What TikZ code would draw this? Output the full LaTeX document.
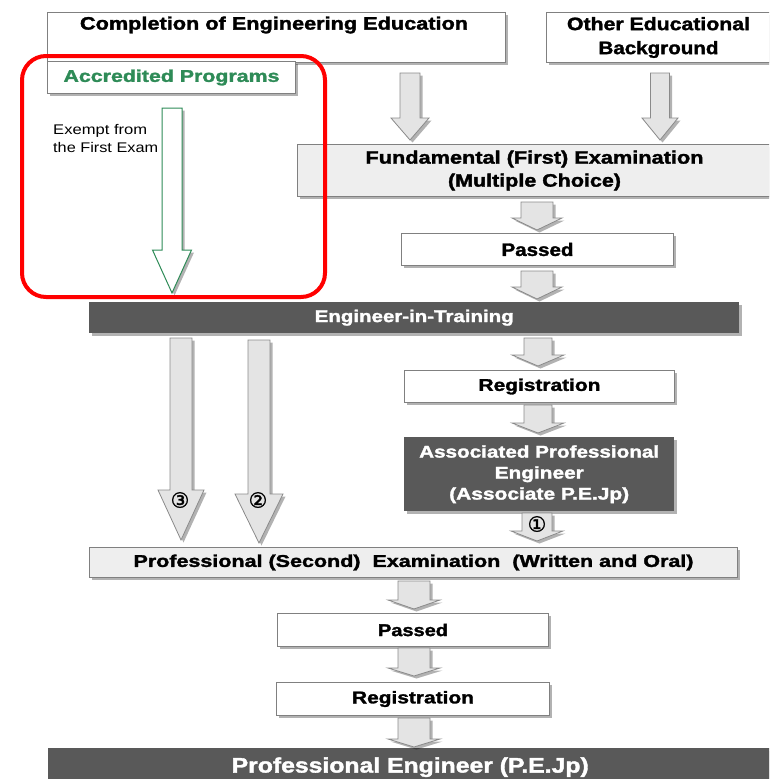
\documentclass[tikz,border=0pt]{standalone}
\usepackage{fontspec}
\setmainfont{Liberation Sans}[BoldFeatures={FakeBold=1.6}]
\newfontfamily\symfont{DejaVu Sans}[FakeBold=1.5]
\usetikzlibrary{calc,shadows}

\definecolor{boxline}{HTML}{808080}
\definecolor{lightfill}{HTML}{EEEEEE}
\definecolor{arrowfill}{HTML}{E4E4E4}
\definecolor{arrowline}{HTML}{8A8A8A}
\definecolor{darkfill}{HTML}{595959}
\definecolor{accgreen}{HTML}{2E8B57}
\definecolor{hlred}{HTML}{FF0000}

% squeeze or stretch a line of text to a given width (pt)
\newcommand\fw[2]{\resizebox{#1pt}{\height}{#2}}

\tikzset{
  softshadow/.style={drop shadow={shadow xshift=2.5pt, shadow yshift=-2.5pt, opacity=0.3, fill=black}},
  whitebox/.style={draw=boxline, fill=white, line width=1pt, softshadow, anchor=north west, inner sep=0pt},
  greybox/.style={whitebox, fill=lightfill},
  darkbox/.style={draw=none, fill=darkfill, softshadow, anchor=north west, inner sep=0pt, text=white},
  blockarrow/.style={draw=arrowline, fill=arrowfill, line width=0.8pt, line join=miter, softshadow},
  greenarrow/.style={draw=accgreen, fill=white, line width=1pt, line join=miter, softshadow},
  hlbox/.style={draw=hlred, line width=4pt, rounded corners=24pt, anchor=north west, inner sep=0pt},
  fbig/.style={font=\fontsize{18}{23}\selectfont\bfseries},
  fmid/.style={font=\fontsize{17}{21}\selectfont\bfseries},
  circnum/.style={font=\symfont\fontsize{21}{21}\selectfont, inner sep=0pt},
}

% block arrow: [style]{top}{tip}{shaft half width}{head half width}{head length}
\newcommand\blockarr[6][blockarrow]{%
  \draw[#1] let \p1=(#2), \p2=(#3) in
    (\x1-#4pt,\y1) -- (\x1+#4pt,\y1) -- (\x1+#4pt,\y2+#6pt) -- (\x1+#5pt,\y2+#6pt)
    -- (\x1,\y2) -- (\x1-#5pt,\y2+#6pt) -- (\x1-#4pt,\y2+#6pt) -- cycle;}

\begin{document}
\begin{tikzpicture}[x=1pt,y=-1pt]
\useasboundingbox (0,0) rectangle (769,779);
\clip (0,0) rectangle (769,779);

% ---- boxes ----
\node[whitebox, minimum width=458, minimum height=50] (comp) at (47,12) {};
\node[fbig, inner sep=0pt] (compt) at (274,25) {\fw{388}{Completion of Engineering Education}};
\node[whitebox, minimum width=224, minimum height=50, align=center, font=\fontsize{18}{24}\selectfont\bfseries] (other) at (546,12)
  {\fw{183}{Other Educational}\\\fw{120}{Background}};
\node[whitebox, fmid, minimum width=248, minimum height=32, text=accgreen] (accr) at (47,61)
  {\fw{216}{Accredited Programs}};
\node[anchor=north west, align=left, font=\fontsize{14}{18}\selectfont, inner sep=0pt] (exempt) at (53,124)
  {\fw{94}{Exempt from}\\\fw{105}{the First Exam}};

\node[greybox, fbig, minimum width=474, minimum height=52, align=center] (fund) at (297,144)
  {\fw{338}{Fundamental (First) Examination}\\\fw{173}{(Multiple Choice)}};
\node[whitebox, fbig, minimum width=272, minimum height=32] (pass1) at (401,233) {\fw{72}{Passed}};
\node[darkbox, fmid, minimum width=650, minimum height=31] (eit) at (89,302) {\fw{199}{Engineer-in-Training}};
\node[whitebox, fmid, minimum width=270, minimum height=32] (reg1) at (404,370) {\fw{122}{Registration}};
\node[darkbox, fmid, minimum width=270, minimum height=74, align=center] (assoc) at (404,437)
  {\fw{240}{Associated Professional}\\\fw{89}{Engineer}\\\fw{180}{(Associate P.E.Jp)}};
\node[greybox, fmid, minimum width=648, minimum height=30] (prof) at (89,547)
  {\fw{560}{Professional (Second)\ \ Examination\ \ (Written and Oral)}};
\node[whitebox, fmid, minimum width=271, minimum height=33] (pass2) at (277,613) {\fw{70}{Passed}};
\node[whitebox, fmid, minimum width=273, minimum height=33] (reg2) at (276,682) {\fw{122}{Registration}};
\node[darkbox, font=\fontsize{21}{24}\selectfont\bfseries, minimum width=724, minimum height=38] (pe) at (48,748)
  {\fw{357}{Professional Engineer (P.E.Jp)}};

% ---- arrow end points ----
\coordinate (a1s) at (410,73);  \coordinate (a1e) at (410,140);
\coordinate (a2s) at (660,73);  \coordinate (a2e) at (660,140);
\coordinate (a3s) at (537,202); \coordinate (a3e) at (537,230);
\coordinate (a4s) at (537,271); \coordinate (a4e) at (537,299);
\coordinate (a5s) at (538,338); \coordinate (a5e) at (538,366);
\coordinate (a6s) at (538,405); \coordinate (a6e) at (538,433);
\coordinate (a7s) at (537,513); \coordinate (a7e) at (537,541);
\coordinate (a8s) at (414,581); \coordinate (a8e) at (414,609);
\coordinate (a9s) at (414,648); \coordinate (a9e) at (414,676);
\coordinate (a10s) at (414,718); \coordinate (a10e) at (414,747);
\coordinate (r3s) at (181,338); \coordinate (r3e) at (181,540);
\coordinate (r2s) at (259,340); \coordinate (r2e) at (259,543);
\coordinate (gs) at (172,108);  \coordinate (ge) at (172,293);

% ---- arrows ----
\blockarr{a1s}{a1e}{10}{19}{22}
\blockarr{a2s}{a2e}{9.5}{18}{22}
\blockarr{a3s}{a3e}{16}{25}{12}
\blockarr{a4s}{a4e}{16}{25}{12}
\blockarr{a5s}{a5e}{14}{26}{11}
\blockarr{a6s}{a6e}{14}{26}{10}
\blockarr{a7s}{a7e}{15}{26}{10}
\blockarr{a8s}{a8e}{16}{26}{9}
\blockarr{a9s}{a9e}{16}{26}{8}
\blockarr{a10s}{a10e}{16}{26}{8}
\blockarr{r3s}{r3e}{11}{23}{50}
\blockarr{r2s}{r2e}{11}{24}{49}
\blockarr[greenarrow]{gs}{ge}{10}{19.5}{43}

% ---- route numbers ----
\node[circnum] (n3) at (180,500) {③};
\node[circnum] (n2) at (258,500) {②};
\node[circnum] (n1) at (537,524) {①};

% ---- highlight frame ----
\node[hlbox, minimum width=303, minimum height=241] (hl) at (20,54) {};
\end{tikzpicture}
\end{document}
